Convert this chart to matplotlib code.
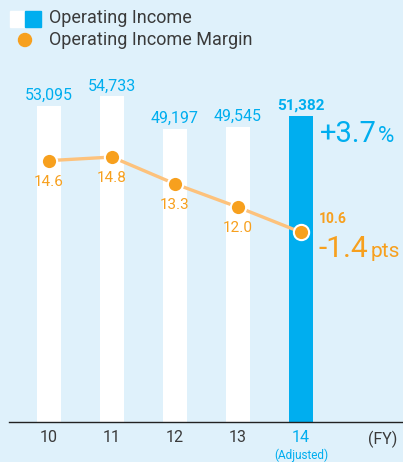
import matplotlib
matplotlib.use("Agg")
import matplotlib.pyplot as plt
from matplotlib.patches import Rectangle, Circle

plt.rcParams['font.family'] = ['Roboto', 'DejaVu Sans']

# data
years = ['10', '11', '12', '13', '14']
income = [53095, 54733, 49197, 49545, 51382]
margin = [14.6, 14.8, 13.3, 12.0, 10.6]
income_change = '+3.7'
margin_change = '-1.4'

BG = '#dff1fb'
BLUE = '#00aeef'
ORANGE = '#f7a01e'
LINE = '#fdc27c'
DARK = '#3a3a3a'

W, H = 403, 462
fig = plt.figure(figsize=(W / 100, H / 100), dpi=100, facecolor=BG)
ax = fig.add_axes([9 / W, 1 - 422 / H, 1 - 9 / W, (422 - 60) / H])
ax.set_facecolor(BG)

x = list(range(len(years)))
cols = ['white'] * (len(years) - 1) + [BLUE]
ax.bar(x, income, width=0.38, color=cols, zorder=2)
ax.set_xlim(-0.635, 5.62)
ax.set_ylim(0, 60840)

for i, v in enumerate(income):
    last = i == len(income) - 1
    ax.annotate(f'{v:,}', (i, v), xytext=(0, 6 if not last else 7),
                textcoords='offset pixels', ha='center', va='baseline',
                fontsize=11.5 if not last else 11, color=BLUE,
                fontweight='bold' if last else 'normal')

# change notes next to FY14
ax.annotate(income_change, (4, income[-1]), xytext=(19, -26), textcoords='offset pixels',
            ha='left', va='baseline', fontsize=21, color=BLUE)
ax.annotate('%', (4, income[-1]), xytext=(77, -26), textcoords='offset pixels',
            ha='left', va='baseline', fontsize=16, color=BLUE)

# margin line on twin axis
ax2 = ax.twinx()
ax2.set_ylim(0, 20.22)
ax2.plot(x, margin, color=LINE, lw=2.4, zorder=3)
ax2.plot(x, margin, 'o', color=ORANGE, ms=11, mec='white', mew=1.5, zorder=4)
for i, v in enumerate(margin[:-1]):
    ax2.annotate(f'{v:.1f}', (i, v), xytext=(0, -21), textcoords='offset pixels',
                 ha='center', va='center', fontsize=11, color=ORANGE)
ax2.annotate(f'{margin[-1]:.1f}', (4, margin[-1]), xytext=(18, 13), textcoords='offset pixels',
             ha='left', va='center', fontsize=10, color=ORANGE, fontweight='bold')
ax2.annotate(margin_change, (4, margin[-1]), xytext=(18, -25), textcoords='offset pixels',
             ha='left', va='baseline', fontsize=21.5, color=ORANGE)
ax2.annotate('pts', (4, margin[-1]), xytext=(70, -25), textcoords='offset pixels',
             ha='left', va='baseline', fontsize=15, color=ORANGE)

for a in (ax, ax2):
    for s in ('top', 'right', 'left'):
        a.spines[s].set_visible(False)
    a.set_yticks([])
ax2.spines['bottom'].set_visible(False)
ax.spines['bottom'].set_color('#222222')
ax.spines['bottom'].set_linewidth(1)

ax.set_xticks(x + [5.30])
ax.set_xticklabels(years + ['(FY)'], fontsize=11.5, color=DARK)
ax.get_xticklabels()[4].set_color(BLUE)
ax.tick_params(axis='x', length=0, pad=6)
ax.annotate('(Adjusted)', (4, 0), xycoords=('data', 'axes fraction'), xytext=(0, -33),
            textcoords='offset pixels', ha='center', va='center', fontsize=8.5, color=BLUE)

# legend drawn by hand
def px(xp, yp):
    return xp / W, 1 - yp / H

fig.add_artist(Rectangle(px(10, 27), 15 / W, 16 / H, color='white', transform=fig.transFigure))
fig.add_artist(Rectangle(px(25, 27), 16 / W, 16 / H, color=BLUE, transform=fig.transFigure))
leg = ax.figure.add_axes([0, 0, 1, 1], facecolor='none')
leg.set_xlim(0, W)
leg.set_ylim(H, 0)
leg.axis('off')
leg.add_patch(Circle((25, 40), 6.5, color=ORANGE))
leg.text(49, 18, 'Operating Income', fontsize=13, color=DARK, va='center')
leg.text(49, 40, 'Operating Income Margin', fontsize=13, color=DARK, va='center')

fig.savefig('out.png', dpi=100, facecolor=BG)
